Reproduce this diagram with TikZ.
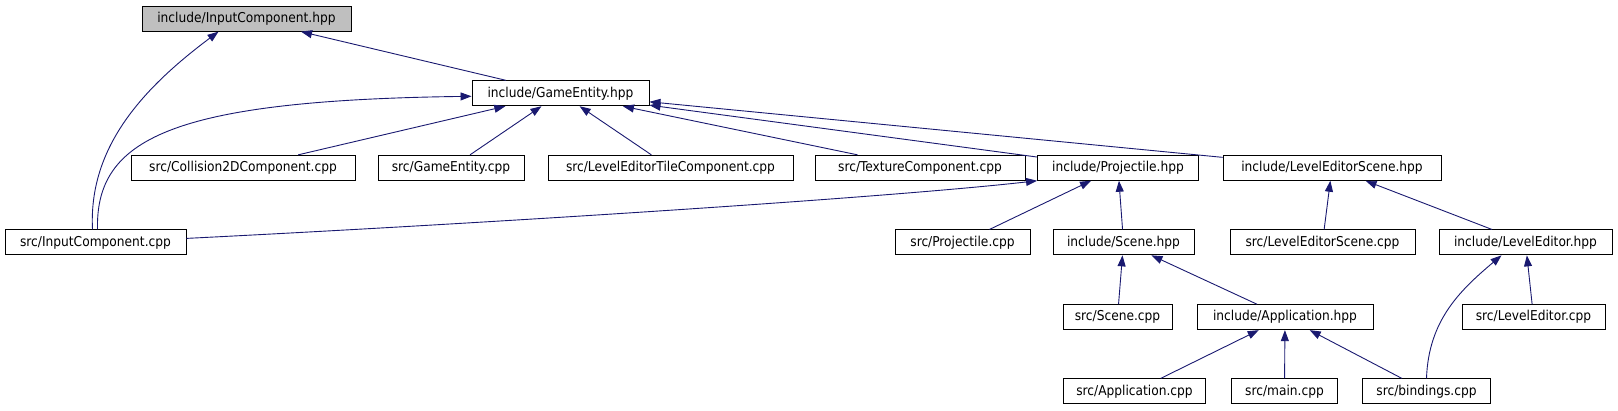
\documentclass[tikz,border=0pt]{standalone}
\usepackage{fontspec}
\setmainfont{DejaVu Sans Condensed}
\usetikzlibrary{arrows.meta}
\definecolor{edgeblue}{HTML}{191970}

\begin{document}
\begin{tikzpicture}[x=1pt,y=-1pt,
  file/.style={draw=black, line width=0.9pt, fill=white, minimum height=25pt, inner sep=0pt, font=\fontsize{13.6}{15}\selectfont},
  dep/.style={draw=edgeblue, line width=0.9pt, {Triangle[length=11pt,width=8pt]}-}]
\useasboundingbox (0,0) rectangle (1618,411);
% row 0 and 1
\node[file, fill=black!25, minimum width=209pt] (inhpp) at (246.5,18.7) {include/InputComponent.hpp};
\node[file, minimum width=177pt] (gehpp) at (560.5,93.3) {include/GameEntity.hpp};
% row 2
\node[file, minimum width=224pt] (colcpp) at (243,167.8) {src/Collision2DComponent.cpp};
\node[file, minimum width=146pt] (gecpp) at (451,167.8) {src/GameEntity.cpp};
\node[file, minimum width=245pt] (tilecpp) at (670.5,167.8) {src/LevelEditorTileComponent.cpp};
\node[file, minimum width=210pt] (texcpp) at (920,167.8) {src/TextureComponent.cpp};
\node[file, minimum width=161pt] (projhpp) at (1118,167.8) {include/Projectile.hpp};
\node[file, minimum width=218pt] (leshpp) at (1332,167.8) {include/LevelEditorScene.hpp};
% row 3
\node[file, minimum width=181pt] (incpp) at (95.5,242.4) {src/InputComponent.cpp};
\node[file, minimum width=135pt] (projcpp) at (962.5,242.4) {src/Projectile.cpp};
\node[file, minimum width=141pt] (scenehpp) at (1123.5,242.4) {include/Scene.hpp};
\node[file, minimum width=185pt] (lescpp) at (1322.5,242.4) {src/LevelEditorScene.cpp};
\node[file, minimum width=173pt] (lehpp) at (1525.5,242.4) {include/LevelEditor.hpp};
% row 4
\node[file, minimum width=109pt] (scenecpp) at (1117.5,317.2) {src/Scene.cpp};
\node[file, minimum width=176pt] (apphpp) at (1285,317.2) {include/Application.hpp};
\node[file, minimum width=143pt] (lecpp) at (1533.5,317.2) {src/LevelEditor.cpp};
% row 5
\node[file, minimum width=142pt] (appcpp) at (1134.5,391.3) {src/Application.cpp};
\node[file, minimum width=106pt] (maincpp) at (1284.5,391.3) {src/main.cpp};
\node[file, minimum width=128pt] (bindcpp) at (1426.5,391.3) {src/bindings.cpp};
% straight includes
\foreach \p/\c in {inhpp/gehpp, gehpp/colcpp, gehpp/gecpp, gehpp/tilecpp, gehpp/texcpp,
  gehpp/projhpp, gehpp/leshpp, projhpp/projcpp, projhpp/scenehpp, leshpp/lescpp,
  leshpp/lehpp, scenehpp/scenecpp, scenehpp/apphpp, apphpp/appcpp, apphpp/maincpp,
  apphpp/bindcpp, lehpp/lecpp}
  \draw[dep] (\p) -- (\c);
% curved includes
\draw[dep] ([xshift=-28pt]inhpp.south) .. controls +(-79,59) and +(-4,-80) .. ([xshift=-3pt]incpp.north);
\draw[dep] ([yshift=-3pt]gehpp.west) .. controls +(-302,4) and +(-2,-90) .. ([xshift=2pt]incpp.north);
\draw[dep] (projhpp.south west) .. controls +(-150,17) and +(300,-15) .. ([yshift=4pt]incpp.east);
\draw[dep] ([xshift=-24pt]lehpp.south) .. controls +(-41.5,35) and +(2,-58) .. (bindcpp.north);
\end{tikzpicture}
\end{document}
